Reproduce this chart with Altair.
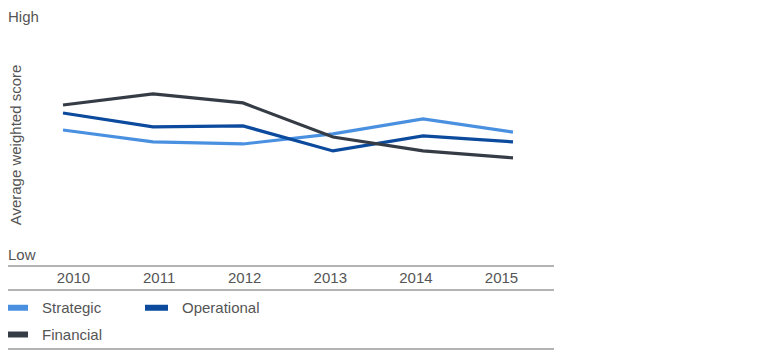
import altair as alt
import pandas as pd

years = ["2010", "2011", "2012", "2013", "2014", "2015"]
series_names = ["Strategic", "Operational", "Financial"]
strategic = [5.27, 4.81, 4.73, 5.12, 5.70, 5.19]
operational = [5.93, 5.39, 5.43, 4.46, 5.04, 4.81]
financial = [6.24, 6.67, 6.32, 5.00, 4.46, 4.19]
colors = ["#4a90e0", "#0b4a9c", "#363c45"]

rows = []
for name, vals in zip(series_names, [strategic, operational, financial]):
    for y, v in zip(years, vals):
        rows.append({"Year": y, "Series": name, "Score": v})
df = pd.DataFrame(rows)

W, H = 546, 258
FONT = "Liberation Sans"
GREY = "#555555"
LINE = "#9a9a9a"

lines = alt.Chart(df).mark_line(strokeWidth=3.2).encode(
    x=alt.X("Year:O", sort=years, axis=None,
            scale=alt.Scale(type="point", range=[55, 505], padding=0)),
    y=alt.Y("Score:Q", axis=None, scale=alt.Scale(domain=[0, 10])),
    color=alt.Color("Series:N", sort=series_names,
                    scale=alt.Scale(domain=series_names, range=colors),
                    legend=alt.Legend(
                        orient="none", legendX=-6, legendY=285,
                        direction="horizontal", columns=2, title=None,
                        symbolType="stroke", symbolStrokeWidth=6, symbolSize=529,
                        labelFont=FONT, labelFontSize=15, labelColor=GREY,
                        labelOffset=11, columnPadding=30, rowPadding=-3,
                    )),
)

xaxis = alt.Chart(pd.DataFrame({"Year": years})).mark_point(opacity=0).encode(
    x=alt.X("Year:O", sort=years, title=None,
            scale=alt.Scale(type="point", range=[65, 493], padding=0),
            axis=alt.Axis(orient="bottom", domain=False, ticks=False, labelAngle=0,
                          labelFont=FONT, labelFontSize=15, labelColor=GREY,
                          labelPadding=4, grid=False)),
)

def label(txt, x, y, angle=0, align="left", baseline="middle"):
    return alt.Chart(pd.DataFrame({"t": [txt]})).mark_text(
        font=FONT, fontSize=15, color=GREY, align=align, baseline=baseline,
        angle=angle,
    ).encode(text="t:N", x=alt.value(x), y=alt.value(y))

high = label("High", 0, 2, baseline="top")
low = label("Low", 0, 247)
ytitle = label("Average weighted score", 8, 137, angle=270, align="center")

def hrule(y):
    return alt.Chart(pd.DataFrame({"a": [0]})).mark_rule(
        color=LINE, strokeWidth=1.5).encode(
        x=alt.value(-8), x2=alt.value(W), y=alt.value(y))

rule_top = hrule(H)
rule_mid = hrule(282)
rule_bot = hrule(341)

chart = alt.layer(
    xaxis, lines, high, low, ytitle, rule_top, rule_mid, rule_bot
).resolve_scale(x="independent").properties(
    width=W, height=H,
    autosize=alt.AutoSizeParams(type="none"),
    padding={"left": 0, "top": 0, "right": 20, "bottom": 90},
).configure_view(stroke=None)

chart.save("out.html", embed_options={"renderer": "svg", "actions": False})
